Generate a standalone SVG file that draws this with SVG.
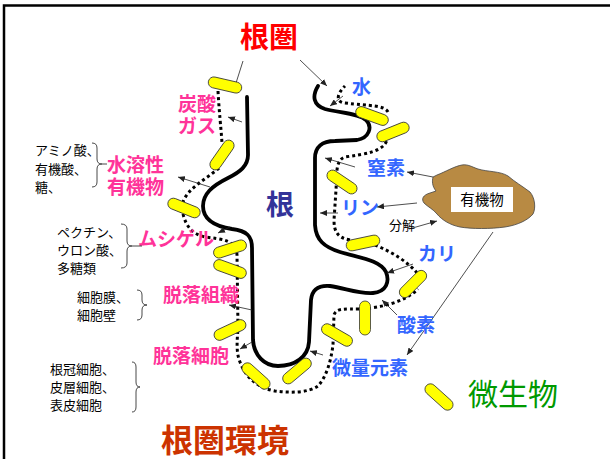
<svg xmlns="http://www.w3.org/2000/svg" width="610" height="459" viewBox="0 0 610 459">
  <style>
    text { font-family: "Noto Sans CJK JP", "Noto Sans", sans-serif; }
    .small { font-size: 13px; fill: #000; }
    .pink { font-size: 19px; font-weight: bold; fill: #ff3399; }
    .blue { font-size: 19px; font-weight: bold; fill: #3366ff; }
    .cap { fill: #ffff00; stroke: #333; stroke-width: 0.8; }
    .dots { fill: none; stroke: #000; stroke-width: 3; stroke-dasharray: 3 3; }
    .thin { fill: none; stroke: #222; stroke-width: 0.8; }
    .brace { fill: none; stroke: #333; stroke-width: 0.9; }
  </style>
  <defs>
    <marker id="ah" markerUnits="userSpaceOnUse" markerWidth="8" markerHeight="6" refX="7" refY="3" orient="auto">
      <path d="M0,0 L7,3 L0,6 z" fill="#222"/>
    </marker>
    <rect id="capsule" class="cap" x="-17" y="-5.5" width="34" height="11" rx="5.5"/>
  </defs>

  <rect width="610" height="459" fill="#fff"/>
  <!-- frame -->
  <path d="M4,459 V5.5 H610" fill="none" stroke="#000" stroke-width="2.5"/>

  <!-- root outline -->
  <g id="root">
    <path d="M247,97 L248,155 C248,166 240,172 228,178 C212,186 203,194 203,206 C203,219 213,226 232,229 C247,231 252,236 252,248 L253,340 C254,355 264,366 278,366 C295,366 308,357 309,342 L311,300 C312,290 318,285 330,286 C345,288 358,294 373,293 C386,292 390,282 386,272 C380,260 360,258 340,252 C324,247 316,240 315,225 L315,158 C315,147 322,141 335,141 L357,140 C369,138 373,127 366,120 C358,113 340,113 325,109 C313,105 312,96 318,86" fill="none" stroke="#000" stroke-width="3.8" stroke-linecap="round"/>
    <text x="280" y="215" font-size="28" font-weight="bold" fill="#333399" text-anchor="middle">根</text>
  </g>

  <!-- dotted pathways along the rhizosphere -->
  <g id="connectors">
    <path class="dots" d="M218,91 C219,110 221,128 222,143"/>
    <path class="dots" d="M219,168 C205,180 188,188 183,202"/>
    <path class="dots" d="M183,214 C186,226 192,234 205,237 C222,239 236,240 237,255 L238,328 C237,342 236,352 240,362 C246,378 258,388 275,391 C290,393 308,393 318,386 C327,376 331,360 333,345 L334,315 C336,308 345,309 360,309 C380,308 405,302 418,289"/>
    <path class="dots" d="M417,273 C408,262 392,252 375,245"/>
    <path class="dots" d="M350,240 C338,238 334,232 334,220 L336,190 C337,175 335,160 345,157 C365,154 383,152 387,140"/>
    <path class="dots" d="M388,112 C384,105 370,106 345,103 C336,102 336,95 345,86"/>

    <!-- thin pointers -->
    <path class="thin" d="M243,61 L236,83"/>
    <path class="thin" d="M300,60 L327,86" marker-end="url(#ah)"/>
    <path class="thin" d="M343,96 L330,106" marker-end="url(#ah)"/>
    <path class="thin" d="M242,122 L228,117" marker-end="url(#ah)"/>
    <path class="thin" d="M210,187 L178,177" marker-end="url(#ah)"/>
    <path class="thin" d="M230,227 L218,233" marker-end="url(#ah)"/>
    <path class="thin" d="M252,310 L229,305" marker-end="url(#ah)"/>
    <path class="thin" d="M252,342 L240,349" marker-end="url(#ah)"/>
    <path class="thin" d="M355,167 L325,158" marker-end="url(#ah)"/>
    <path class="thin" d="M433,177 L407,172" marker-end="url(#ah)"/>
    <path class="thin" d="M338,213 L320,213" marker-end="url(#ah)"/>
    <path class="thin" d="M417,203 L377,207" marker-end="url(#ah)"/>
    <path class="thin" d="M409,229 L437,221" marker-end="url(#ah)"/>
    <path class="thin" d="M413,264 L387,273" marker-end="url(#ah)"/>
    <path class="thin" d="M397,315 L382,300" marker-end="url(#ah)"/>
    <path class="thin" d="M323,355 L310,351" marker-end="url(#ah)"/>
    <path class="thin" d="M493,232 L407,355" marker-end="url(#ah)"/>
  </g>

  <!-- microbes along the root -->
  <g id="microbes">
    <use href="#capsule" transform="translate(225,85) rotate(13)"/>
    <use href="#capsule" transform="translate(222,155) rotate(-55)"/>
    <use href="#capsule" transform="translate(184,208) rotate(22)"/>
    <use href="#capsule" transform="translate(372,116) rotate(20)"/>
    <use href="#capsule" transform="translate(393,132) rotate(-22)"/>
    <use href="#capsule" transform="translate(342,182) rotate(34)"/>
    <use href="#capsule" transform="translate(363,243) rotate(-12)"/>
    <use href="#capsule" transform="translate(413,284) rotate(-45)"/>
    <use href="#capsule" transform="translate(365,318) rotate(90)"/>
    <use href="#capsule" transform="translate(337,335) rotate(30)"/>
    <use href="#capsule" transform="translate(297,371) rotate(-40)"/>
    <use href="#capsule" transform="translate(256,376) rotate(42)"/>
    <use href="#capsule" transform="translate(230,249) rotate(-18)"/>
    <use href="#capsule" transform="translate(230,269) rotate(20)"/>
    <use href="#capsule" transform="translate(230,330) rotate(-25)"/>
    <use href="#capsule" transform="translate(439,397) rotate(42)"/>
  </g>

  <!-- organic matter -->
  <g id="organic">
    <path d="M433,177 L437,175 C445,172 455,166 462,165 C468,164 472,167 478,169 C488,172 500,171 508,176 C515,182 522,186 530,192 C535,198 536,208 533,214 C528,220 518,225 505,227 C490,229 472,229 460,227 C450,225 442,220 437,214 C433,209 428,207 424,203 C421,199 423,195 430,193 L436,191 C432,186 432,181 433,177 Z" fill="#b88a43" stroke="#444" stroke-width="0.8"/>
    <rect x="451" y="187" width="62" height="25" fill="#fff"/>
    <text x="482" y="205" font-size="14.5" fill="#000" text-anchor="middle">有機物</text>
  </g>

  <!-- titles -->
  <g id="titles">
    <text x="269" y="48" font-size="29" font-weight="bold" fill="#ff0000" text-anchor="middle">根圏</text>
    <text x="225" y="452" font-size="32" font-weight="bold" fill="#cc3300" text-anchor="middle">根圏環境</text>
    <text x="513" y="405" font-size="30" fill="#009900" text-anchor="middle">微生物</text>
  </g>

  <!-- exudate labels -->
  <g id="exudates">
    <text class="pink" x="178" y="111">炭酸</text>
    <text class="pink" x="178" y="133">ガス</text>
    <text class="pink" x="107" y="172" font-size="20">水溶性</text>
    <text class="pink" x="107" y="194" font-size="20">有機物</text>
    <text class="pink" x="138" y="246">ムシゲル</text>
    <text class="pink" x="163" y="302" font-size="20">脱落組織</text>
    <text class="pink" x="153" y="363" font-size="20">脱落細胞</text>
  </g>

  <!-- nutrient labels -->
  <g id="nutrients">
    <text class="blue" x="352" y="94">水</text>
    <text class="blue" x="367" y="175" font-size="20">窒素</text>
    <text class="blue" x="341" y="215">リン</text>
    <text class="blue" x="418" y="261">カリ</text>
    <text class="blue" x="397" y="332" font-size="20">酸素</text>
    <text class="blue" x="332" y="375" font-size="20">微量元素</text>
    <text x="389" y="230" font-size="13" fill="#000">分解</text>
  </g>

  <!-- detail lists with braces -->
  <g id="details">
    <text class="small" x="35" y="155">アミノ酸、</text>
    <text class="small" x="35" y="174">有機酸、</text>
    <text class="small" x="35" y="192">糖、</text>
    <path class="brace" d="M92,143 Q97,143 97,148 L97,159 Q97,164 102,164 L107,164 M102,164 Q97,164 97,169 L97,182 Q97,187 92,187"/>

    <text class="small" x="57" y="237">ペクチン、</text>
    <text class="small" x="57" y="255">ウロン酸、</text>
    <text class="small" x="57" y="273">多糖類</text>
    <path class="brace" d="M121,224 Q127,224 127,229 L127,241 Q127,246 132,246 L142,246 M132,246 Q127,246 127,251 L127,263 Q127,268 121,268"/>

    <text class="small" x="77" y="302">細胞膜、</text>
    <text class="small" x="77" y="320">細胞壁</text>
    <path class="brace" d="M137,290 Q142,290 142,295 L142,300 Q142,305 147,305 Q142,305 142,310 L142,315 Q142,320 137,320"/>

    <text class="small" x="50" y="374">根冠細胞、</text>
    <text class="small" x="50" y="392">皮層細胞、</text>
    <text class="small" x="50" y="410">表皮細胞</text>
    <path class="brace" d="M132,362 Q136,362 136,367 L136,382 Q136,387 140,387 Q136,387 136,392 L136,407 Q136,412 132,412"/>
  </g>
</svg>
